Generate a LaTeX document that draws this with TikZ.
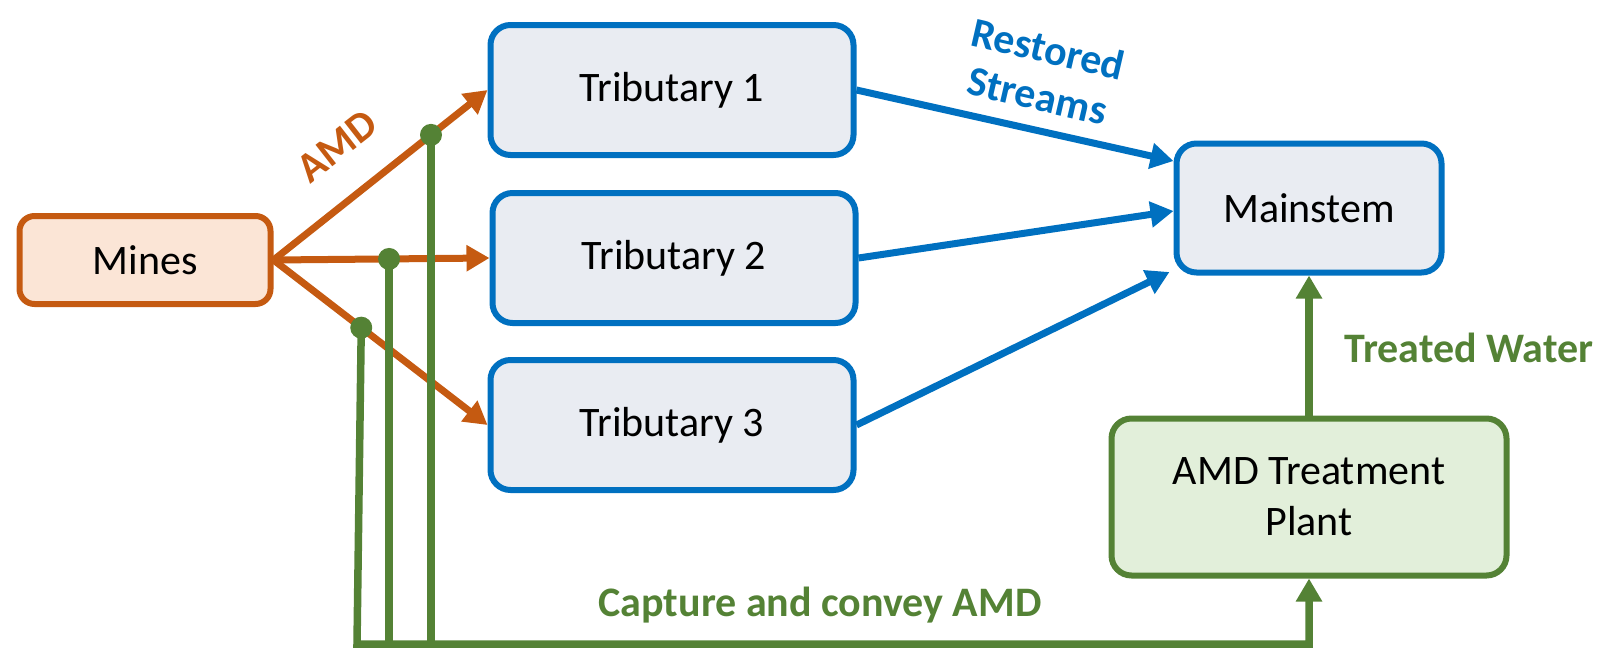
\documentclass[tikz,border=0pt]{standalone}
\usepackage{fontspec}
\setmainfont{Carlito}
\usetikzlibrary{arrows.meta,calc}
\definecolor{amdorange}{HTML}{C55A11}
\definecolor{minefill}{HTML}{FBE5D6}
\definecolor{streamblue}{HTML}{0070C0}
\definecolor{streamfill}{HTML}{E9ECF2}
\definecolor{treatgreen}{HTML}{548235}
\definecolor{plantfill}{HTML}{E2EFDA}

\begin{document}
\begin{tikzpicture}[x=1pt,y=-1pt,
  box/.style={rounded corners=20pt, line width=6pt, inner sep=0pt, align=center,
    font=\fontsize{42}{51}\selectfont},
  minebox/.style={box, rounded corners=15pt, draw=amdorange, fill=minefill,
    minimum width=251pt, minimum height=88pt},
  tribbox/.style={box, draw=streamblue, fill=streamfill,
    minimum width=363pt, minimum height=130pt},
  mainbox/.style={box, draw=streamblue, fill=streamfill,
    minimum width=265pt, minimum height=129pt},
  plantbox/.style={box, draw=treatgreen, fill=plantfill,
    minimum width=395pt, minimum height=157pt},
  flow/.style={line width=7pt, -{Triangle[length=23pt,width=25pt]}},
  amdflow/.style={flow, draw=amdorange},
  streamflow/.style={flow, draw=streamblue},
  pipe/.style={line width=7.5pt, draw=treatgreen},
  tap/.style={fill=treatgreen},
  lbl/.style={font=\fontsize{42}{48}\selectfont\bfseries, inner sep=0pt, align=center}
]
\useasboundingbox (0,0) rectangle (1603,648);

% boxes
\node[minebox]  (mines) at (145,260)  {Mines};
\node[tribbox]  (t1)    at (672,90)   {Tributary 1};
\node[tribbox]  (t2)    at (674,258)  {Tributary 2};
\node[tribbox]  (t3)    at (672,425)  {Tributary 3};
\node[mainbox]  (ms)    at (1309,208) {Mainstem};
\node[plantbox] (plant) at (1309,497) {AMD Treatment\\Plant};

% drainage from the mines, with the capture points on each branch
\draw[amdflow] (mines.east) -- coordinate[pos=0.736] (d1) (t1.west);
\draw[amdflow] (mines.east) -- coordinate[pos=0.535] (d2) (t2.west);
\draw[amdflow] (mines.east) -- coordinate[pos=0.41]  (d3) (t3.west);

% restored tributaries feeding the mainstem
\draw[streamflow] (t1.east) -- ([yshift=47pt]ms.west);
\draw[streamflow] (t2.east) -- ([yshift=-3pt]ms.west);
\draw[streamflow] (t3.east) -- ([xshift=-4pt,yshift=-64pt]ms.west);

% collection pipes to the treatment plant
\coordinate (b3) at (357,644);
\draw[pipe] (d1) -- (d1 |- 0,641);
\draw[pipe] (d2) -- (d2 |- 0,641);
\draw[pipe, -{Triangle[length=23pt,width=25pt]}, line join=miter]
  (d3) -- (b3) -- (b3 -| plant.south) -- (plant.south);
\fill[tap] (d1) circle (11pt);
\fill[tap] (d2) circle (11pt);
\fill[tap] (d3) circle (11pt);

% treated discharge
\draw[pipe, -{Triangle[length=23pt,width=25pt]}] (plant.north) -- (ms.south);

% labels
\node[lbl, text=amdorange, rotate=38] (lamd) at (337,146) {AMD};
\node[lbl, text=streamblue, rotate=-13] (lrest) at (1043,72) {Restored\\Streams};
\node[lbl, text=treatgreen] (ltreat) at (1469,348) {Treated Water};
\node[lbl, text=treatgreen] (lcap) at (820,605) {Capture and convey AMD};
\end{tikzpicture}
\end{document}
